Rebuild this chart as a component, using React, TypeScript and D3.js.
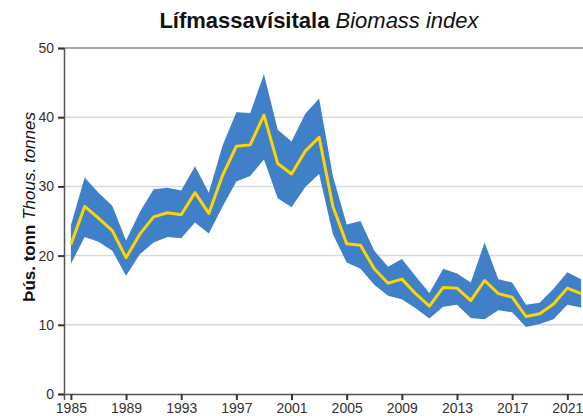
import React, { useRef, useEffect } from "react";
import * as d3 from "d3";

const years = d3.range(1985, 2023);
const index = [
  21.6, 27.1, 25.4, 23.6, 19.7, 23.1, 25.6, 26.2, 25.9, 29.1,
  26.1, 31.6, 35.8, 36.0, 40.3, 33.3, 31.8, 35.1, 37.1, 27.1,
  21.7, 21.5, 18.1, 16.0, 16.6, 14.5, 12.7, 15.4, 15.3, 13.5,
  16.4, 14.5, 14.0, 11.2, 11.6, 13.0, 15.3, 14.5,
];
const upper = [
  24.4, 31.3, 29.1, 27.2, 22.2, 26.3, 29.6, 29.8, 29.4, 32.9,
  29.1, 35.9, 40.7, 40.6, 46.2, 38.2, 36.5, 40.5, 42.7, 31.5,
  24.5, 25.0, 20.7, 18.4, 19.5, 17.0, 14.6, 18.1, 17.4, 16.1,
  21.9, 16.6, 16.1, 12.9, 13.2, 15.2, 17.6, 16.6,
];
const lower = [
  18.8, 22.7, 22.0, 20.7, 17.1, 20.2, 21.9, 22.7, 22.5, 24.8,
  23.2, 27.1, 30.7, 31.5, 33.9, 28.3, 27.0, 29.9, 31.8, 23.1,
  19.0, 18.1, 15.8, 14.2, 13.7, 12.4, 10.9, 12.6, 12.9, 11.0,
  10.8, 12.1, 11.8, 9.7, 10.1, 10.8, 12.9, 12.5,
];
const yTicks = [0, 10, 20, 30, 40, 50];
const xTicks = d3.range(1985, 2023, 4);

const W = 583;
const H = 416;

export default function App() {
  const svgRef = useRef<SVGSVGElement>(null);

  useEffect(() => {
    document.body.style.margin = "0";
    const svg = d3.select(svgRef.current);
    svg.selectAll("*").remove();

    const x = d3.scaleLinear().domain([1984.5, 2022.5]).range([64, 588]);
    const y = d3.scaleLinear().domain([0, 50]).range([394, 48]);
    const font = "'Liberation Sans', Arial, sans-serif";

    // grid
    svg.append("g")
      .selectAll("line")
      .data(yTicks.filter((d) => d > 0))
      .enter()
      .append("line")
      .attr("x1", 64)
      .attr("x2", W)
      .attr("y1", (d) => y(d))
      .attr("y2", (d) => y(d))
      .attr("stroke", (d) => (d === 50 ? "#8a8a8a" : "#d9d9d9"))
      .attr("stroke-width", 1.5);

    const rows = years.map((yr, i) => ({ yr, v: index[i], lo: lower[i], hi: upper[i] }));

    const area = d3.area<any>()
      .x((d) => x(d.yr))
      .y0((d) => y(d.lo))
      .y1((d) => y(d.hi));
    svg.append("path").datum(rows).attr("d", area).attr("fill", "#3f80c8");

    const line = d3.line<any>().x((d) => x(d.yr)).y((d) => y(d.v));
    svg.append("path")
      .datum(rows)
      .attr("d", line)
      .attr("fill", "none")
      .attr("stroke", "#ffd500")
      .attr("stroke-width", 3)
      .attr("stroke-linejoin", "round");

    // y axis
    const ya = svg.append("g")
      .attr("transform", "translate(64,0)")
      .call(d3.axisLeft(y).tickValues(yTicks).tickSize(6).tickPadding(4));
    ya.select(".domain").attr("stroke", "#555").attr("stroke-width", 1.5);
    ya.selectAll(".tick line").attr("stroke", "#333").attr("stroke-width", 2);
    ya.selectAll("text").attr("font-family", font).attr("font-size", 14).attr("fill", "#333");

    // x axis
    const xa = svg.append("g")
      .attr("transform", "translate(0,394)")
      .call(d3.axisBottom(x).tickValues(xTicks).tickFormat(d3.format("d")).tickSize(6).tickPadding(3));
    xa.select(".domain").attr("stroke", "#555").attr("stroke-width", 1.5);
    xa.selectAll(".tick line").attr("stroke", "#333").attr("stroke-width", 2);
    xa.selectAll("text").attr("font-family", font).attr("font-size", 14).attr("fill", "#333");

    // title
    const t = svg.append("text")
      .attr("x", 319)
      .attr("y", 28)
      .attr("text-anchor", "middle")
      .attr("font-family", font)
      .attr("font-size", 22)
      .attr("fill", "#111");
    t.append("tspan").attr("font-weight", "bold").text("Lífmassavísitala ");
    t.append("tspan").attr("font-style", "italic").text("Biomass index");

    // y label
    const yl = svg.append("text")
      .attr("transform", "translate(35,207) rotate(-90)")
      .attr("text-anchor", "middle")
      .attr("font-family", font)
      .attr("font-size", 17)
      .attr("fill", "#111");
    yl.append("tspan").attr("font-weight", "bold").text("Þús. tonn ");
    yl.append("tspan").attr("font-style", "italic").text("Thous. tonnes");
  }, []);

  return <svg ref={svgRef} width={W} height={H} style={{ display: "block" }} />;
}
